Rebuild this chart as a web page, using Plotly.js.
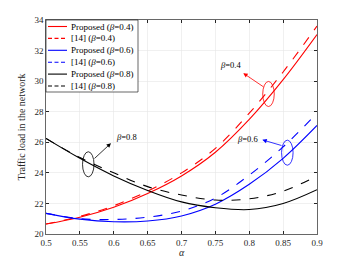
<!DOCTYPE html>
<html>
<head>
<meta charset="utf-8">
<script src="https://cdn.plot.ly/plotly-3.0.1.min.js"></script>
<style>html,body{margin:0;padding:0;background:#fff;}#chart{width:350px;height:263px;}</style>
</head>
<body>
<div id="chart"></div>
<script>
const alpha = [0.5, 0.55, 0.6, 0.65, 0.7, 0.75, 0.8, 0.85, 0.9];
const proposed04 = [20.65, 21.1, 21.75, 22.65, 23.8, 25.35, 27.5, 30.1, 33.05];
const ref14_04   = [20.65, 21.15, 21.85, 22.8, 24.0, 25.6, 27.9, 30.6, 33.6];
const proposed06 = [21.35, 20.97, 20.8, 20.85, 21.18, 21.95, 23.25, 24.95, 27.1];
const ref14_06   = [21.35, 21.0, 20.95, 21.1, 21.5, 22.35, 23.85, 25.7, 27.9];
const proposed08 = [26.25, 24.95, 23.8, 22.85, 22.1, 21.72, 21.6, 22.0, 22.9];
const ref14_08   = [26.25, 25.0, 24.0, 23.1, 22.55, 22.22, 22.3, 22.8, 23.8];
const seriesNames = ['Proposed (<i>β</i>=0.4)', '[14] (<i>β</i>=0.4)', 'Proposed (<i>β</i>=0.6)', '[14] (<i>β</i>=0.6)', 'Proposed (<i>β</i>=0.8)', '[14] (<i>β</i>=0.8)'];
const xTicks = [0.5, 0.55, 0.6, 0.65, 0.7, 0.75, 0.8, 0.85, 0.9];
const xTickText = ['0.5', '0.55', '0.6', '0.65', '0.7', '0.75', '0.8', '0.85', '0.9'];
const yTicks = [20, 22, 24, 26, 28, 30, 32, 34];
const betaLabels = ['<i>β</i>=0.4', '<i>β</i>=0.6', '<i>β</i>=0.8'];
// ellipse centres [alpha, value]
const ellipse04 = [0.8284, 29.16];
const ellipse06 = [0.8562, 25.32];
const ellipse08 = [0.5624, 24.56];
// arrows: [tail alpha, tail value, head alpha, head value]
const arrow04 = [0.8232, 29.56, 0.7912, 30.52];
const arrow06 = [0.8498, 25.76, 0.8193, 26.16];
const arrow08 = [0.5694, 24.85, 0.5959, 25.94];
// label positions
const label04 = [0.7716, 31.05];
const label06 = [0.7967, 26.22];
const label08 = [0.6181, 26.35];

const ys = [proposed04, ref14_04, proposed06, ref14_06, proposed08, ref14_08];
const colors = ['#ff0000', '#ff0000', '#0000ff', '#0000ff', '#000000', '#000000'];
const dashes = ['solid', 'dash', 'solid', 'dash', 'solid', 'dash'];
const traces = ys.map((y, i) => ({
  x: alpha, y: y, type: 'scatter', mode: 'lines', name: seriesNames[i], showlegend: false,
  line: {color: colors[i], width: 1.1, dash: dashes[i], shape: 'spline', smoothing: 1}
}));

const serif = 'Liberation Serif, Times New Roman, serif';
function ell(c, col) {
  return {type: 'circle', xref: 'x', yref: 'y', x0: c[0] - 0.0085, x1: c[0] + 0.0085,
    y0: c[1] - 0.82, y1: c[1] + 0.82, line: {color: col, width: 0.8}};
}
function arr(a, col) {
  return {x: a[2], y: a[3], ax: a[0], ay: a[1], axref: 'x', ayref: 'y', xref: 'x', yref: 'y',
    showarrow: true, arrowhead: 2, arrowsize: 1.1, arrowwidth: 0.8, arrowcolor: col, text: '',
    startstandoff: 0, standoff: 0};
}
function lab(p, t) {
  return {x: p[0], y: p[1], xref: 'x', yref: 'y', text: t, showarrow: false,
    font: {family: serif, size: 8.5, color: '#000'}};
}

// custom compact legend (paper coords = plot area)
const plotW = 271, plotH = 214;
const shapes = [ell(ellipse04, '#ff0000'), ell(ellipse06, '#0000ff'), ell(ellipse08, '#000000')];
shapes.push({type: 'rect', xref: 'paper', yref: 'paper', x0: 0, x1: 92 / plotW, y0: 1 - 72 / plotH, y1: 1,
  fillcolor: '#ffffff', line: {color: '#262626', width: 0.7}, layer: 'above'});
const annotations = [arr(arrow04, '#ff0000'), lab(label04, betaLabels[0]),
  arr(arrow06, '#0000ff'), lab(label06, betaLabels[1]),
  arr(arrow08, '#000000'), lab(label08, betaLabels[2])];
seriesNames.forEach((n, i) => {
  const yy = 1 - (6.5 + 11.9 * i) / plotH;
  shapes.push({type: 'line', xref: 'paper', yref: 'paper', x0: 2 / plotW, x1: 21 / plotW, y0: yy, y1: yy,
    line: {color: colors[i], width: 1.1, dash: dashes[i] === 'dash' ? '4px,2.5px' : 'solid'}, layer: 'above'});
  annotations.push({xref: 'paper', yref: 'paper', x: 22.5 / plotW, y: yy, xanchor: 'left', yanchor: 'middle',
    text: n, showarrow: false, font: {family: serif, size: 9, color: '#000'}});
});

const layout = {
  width: 350, height: 263,
  margin: {l: 46, r: 33, t: 20, b: 29},
  paper_bgcolor: '#fff', plot_bgcolor: '#fff',
  font: {family: serif, size: 9, color: '#262626'},
  showlegend: false,
  xaxis: {range: [0.5, 0.9], tickvals: xTicks, ticktext: xTickText, ticks: 'inside', ticklen: 3,
    tickcolor: '#262626', showline: true, linecolor: '#262626', linewidth: 0.7, mirror: 'ticks',
    showgrid: true, gridcolor: '#e6e6e6', gridwidth: 0.6, zeroline: false,
    tickfont: {family: serif, size: 9, color: '#262626'},
    title: {text: '<i>α</i>', font: {family: serif, size: 10, color: '#262626'}, standoff: 2}},
  yaxis: {range: [20, 34], tickvals: yTicks, ticks: 'inside', ticklen: 3,
    tickcolor: '#262626', showline: true, linecolor: '#262626', linewidth: 0.7, mirror: 'ticks',
    showgrid: true, gridcolor: '#e6e6e6', gridwidth: 0.6, zeroline: false,
    tickfont: {family: serif, size: 9, color: '#262626'},
    title: {text: 'Traffic load in the network', font: {family: serif, size: 10, color: '#262626'}, standoff: 6}},
  shapes: shapes,
  annotations: annotations
};
Plotly.newPlot('chart', traces, layout, {staticPlot: true, displayModeBar: false});
</script>
</body>
</html>
